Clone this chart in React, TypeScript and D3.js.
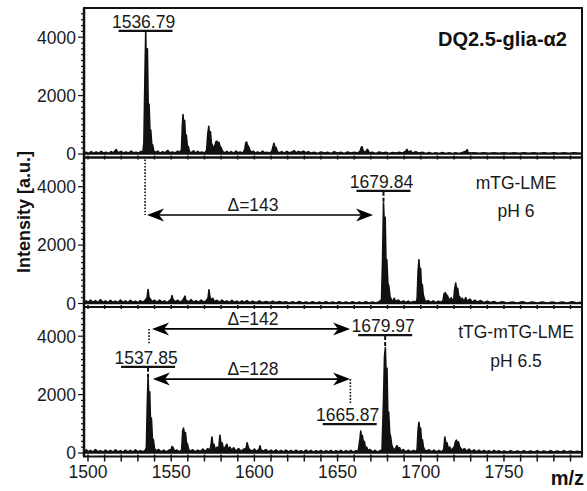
import React from "react";
import * as d3 from "d3";

// m/z spectra: [m/z, intensity]
const specGlia: [number, number][] = [
  [1497.6,20],[1499,60],[1500,20],[1502,80],[1503,25],[1505,70],[1506,20],[1508,90],[1509,30],[1511,60],[1512,20],[1514,80],[1515,30],[1517,150],[1518,40],[1520,90],[1521,30],[1523,70],[1524,20],[1526,100],[1527,40],[1529,60],[1530,30],[1532,90],[1533,60],
  [1533.6,400],[1534.2,2600],[1534.7,4180],[1535.2,2400],[1535.7,3600],[1536.2,1600],[1536.7,1700],[1537.2,850],[1537.7,820],[1538.3,350],[1538.9,300],[1539.5,100],
  [1541,50],[1542,100],[1543,30],[1545,80],[1546,30],[1548,120],[1549,40],[1551,70],[1552,30],[1554,100],[1555,40],
  [1556.2,150],[1556.7,950],[1557.1,1350],[1557.6,800],[1558.1,1150],[1558.6,550],[1559.1,650],[1559.7,280],[1560.3,250],[1561,80],
  [1562,40],[1563.5,110],[1564.5,30],[1566,90],[1567,40],[1568.5,70],[1570,30],[1571.3,120],
  [1572,700],[1572.6,950],[1573.1,600],[1573.6,760],[1574.2,350],[1574.8,300],[1575.5,150],
  [1576.3,300],[1576.9,420],[1577.5,440],[1578.1,380],[1578.7,400],[1579.3,280],[1580,220],[1580.8,100],
  [1582,40],[1583.5,90],[1584.5,30],[1586,80],[1587.5,30],[1589,100],[1590,40],[1591.5,70],[1593,30],
  [1594.2,150],[1594.8,380],[1595.3,410],[1595.9,300],[1596.5,260],[1597.2,150],[1598,60],
  [1599.5,90],[1600.5,30],[1602,70],[1603.5,30],[1605,100],[1606,40],[1607.5,60],[1609,30],[1610.5,90],
  [1611.2,250],[1611.8,370],[1612.4,200],[1613,230],[1613.8,80],
  [1615,40],[1616.5,80],[1618,30],[1619.5,90],[1621,40],[1622.5,70],[1624,110],[1625,40],[1626.5,90],[1628,50],[1629.5,100],[1631,40],[1632.5,80],[1634,30],[1636,60],[1638,20],[1640,70],[1642,30],[1644,60],[1646,20],[1648,80],[1650,30],[1652,60],[1654,20],[1656,70],[1658,30],[1660,60],[1662,30],
  [1663.6,100],[1664.2,220],[1664.7,250],[1665.3,120],[1666.5,40],[1668,160],[1669,40],[1671,60],[1673,20],[1675,70],[1677,30],[1679,60],[1681,20],[1683,50],[1685,30],[1687,60],[1689,30],[1691,100],[1691.7,160],[1692.5,60],[1694,100],[1695,30],[1697,80],[1699,30],[1701,60],[1703,20],[1705,50],[1707,20],[1709,40],[1711,20],[1713,50],[1715,20],[1717,40],[1719,20],[1721,40],[1723,20],[1725,50],[1727.2,90],[1727.8,150],[1728.5,50],[1730,30],[1732,40],[1735,20],[1738,40],[1741,20],[1744,40],[1747,20],[1750,40],[1753,20],[1756,40],[1759,20],[1762,40],[1765,20],[1768,40],[1771,20],[1774,40],[1777,20],[1780,40],[1783,20],[1786,40],[1789,20],[1792,40],[1796.9,20],
];

const specLme6: [number, number][] = [
  [1497.6,30],[1499,90],[1500,30],[1501.5,120],[1503,40],[1504.5,100],[1506,30],[1507.5,130],[1509,40],[1510.5,90],[1512,30],[1513.5,110],[1515,40],[1516.5,80],[1518,30],[1519.5,120],[1521,40],[1522.5,90],[1524,30],[1525.5,110],[1527,40],[1528.5,80],[1530,30],[1531.5,100],[1533,40],[1534.5,120],
  [1535.5,200],[1536.1,480],[1536.7,200],[1537.5,150],[1538.5,60],[1540,110],[1541.5,40],[1543,120],[1544.5,50],[1546,90],[1547.5,30],[1549,100],[1550,150],[1550.5,270],[1551.2,120],[1552.5,60],[1554,110],[1555.5,40],[1557,120],[1557.7,180],[1558.3,250],[1558.9,100],[1560.5,60],[1562,130],[1563.5,40],[1565,100],[1566.5,40],[1568,120],[1569.5,50],[1571,90],[1572.2,200],[1572.7,470],[1573.3,220],[1574,120],[1575,180],[1576,60],[1577.5,110],[1579,40],[1580.5,120],[1582,50],[1583.5,90],[1585,40],[1586.5,110],[1588,40],[1589.5,80],[1591,30],[1592.5,90],[1594,40],[1595.5,100],[1597,30],[1599,80],[1601,30],[1603,90],[1605,30],[1607,70],[1609,30],[1611,80],[1613,30],[1615,70],[1617,30],[1619,60],[1621,20],[1623,60],[1625,20],[1627,70],[1629,20],[1631,50],[1633,20],[1635,60],[1637,20],[1639,50],[1641,20],[1643,60],[1645,20],[1647,50],[1649,20],[1651,60],[1653,20],[1655,50],[1657,20],[1659,60],[1661,20],[1663,50],[1665,20],[1667,60],[1669,20],[1671,50],[1673,20],[1675,60],
  [1676.4,120],[1677,1400],[1677.6,3450],[1678.1,2700],[1678.6,2950],[1679.1,1400],[1679.6,1500],[1680.2,700],[1680.8,600],[1681.5,250],[1682.3,130],[1683,60],[1684,180],[1685,60],[1686.5,120],[1688,40],[1689.5,90],[1691,40],[1692.5,80],[1694,30],[1695.5,70],[1697,40],
  [1697.8,150],[1698.4,1100],[1698.9,1500],[1699.4,1100],[1699.9,1200],[1700.4,600],[1700.9,650],[1701.5,300],[1702.2,150],[1703,60],
  [1704.5,100],[1706,40],[1707.5,90],[1709,30],[1710.5,80],[1712,40],
  [1713.4,100],[1714,330],[1714.7,370],[1715.4,300],[1716.1,260],[1716.8,150],[1717.5,120],[1718.3,200],[1719,90],[1719.8,150],
  [1720.4,500],[1721,700],[1721.6,450],[1722.2,520],[1722.8,250],[1723.5,220],[1724.2,100],[1725,180],[1726,60],[1727,200],[1728,70],[1729.5,150],[1731,50],[1732.5,120],[1734,40],[1736,100],[1738,30],[1740,80],[1742,30],[1744,70],[1746,20],[1749,60],[1752,20],[1755,50],[1758,20],[1761,60],[1764,20],[1767,50],[1770,20],[1773,50],[1776,20],[1779,50],[1782,20],[1785,50],[1788,20],[1791,60],[1794,20],[1796.9,40],
];

const specLme65: [number, number][] = [
  [1497.6,40],[1499,110],[1500,40],[1501.5,90],[1503,30],[1504.5,120],[1506,40],[1507.5,80],[1509,30],[1510.5,100],[1512,40],[1513.5,90],[1515,30],[1516.5,110],[1518,40],[1519.5,80],[1521,30],[1522.5,100],[1524,40],[1525.5,90],[1527,30],[1528.5,110],[1530,40],[1531.5,80],[1533,40],[1534.5,100],
  [1535.1,200],[1535.6,1600],[1536.1,2600],[1536.6,1800],[1537.1,2100],[1537.6,1000],[1538.1,1200],[1538.7,500],[1539.3,450],[1540,150],[1541,70],[1542.5,120],[1544,40],[1545.5,100],[1547,40],[1548.5,90],[1550,120],[1550.5,220],[1551.2,180],[1552,60],[1553.5,100],[1555,40],[1556.3,110],
  [1556.9,750],[1557.4,850],[1558,650],[1558.6,700],[1559.2,350],[1559.8,300],[1560.5,120],[1561.5,60],[1563,110],[1564.5,40],[1566,100],[1567.5,50],[1569,130],[1570.5,60],[1572,150],[1573.3,80],
  [1574,300],[1574.5,550],[1575.1,250],[1575.7,300],[1576.4,120],[1577.5,200],[1578.5,90],[1579.3,610],[1579.9,300],[1580.6,350],[1581.3,150],[1582.3,180],[1583.5,300],[1584.3,120],[1585.3,200],[1586.5,90],[1587.5,180],[1589,60],[1590.5,150],[1592,60],[1593.5,130],[1595,150],[1595.6,350],[1596.3,200],[1597,120],[1598.5,60],[1600,130],[1601.5,50],[1603,150],[1603.4,250],[1604,100],[1605.5,60],[1607,120],[1608.5,40],[1610,100],[1611.5,40],[1613,110],[1614.5,40],[1616,90],[1617.5,40],[1619,100],[1620.5,40],[1622,90],[1623.5,30],[1625,100],[1626.5,40],[1628,80],[1629.5,30],[1631,100],[1632.5,40],[1634,90],[1635.5,30],[1637,80],[1638.5,40],[1640,90],[1641.5,30],[1643,80],[1644.5,40],[1646,90],[1647.5,30],[1649,80],[1650.5,40],[1652,90],[1653.5,30],[1655,80],[1656.5,40],[1658,90],[1659.5,30],[1661,80],[1662.4,60],
  [1663,300],[1663.5,500],[1663.9,750],[1664.4,550],[1664.9,600],[1665.5,350],[1666.1,400],[1666.8,150],[1667.5,200],[1668.3,80],[1669.5,120],[1671,40],[1672.5,90],[1674,30],[1675.5,80],[1676.7,100],
  [1677.6,1800],[1678.2,3300],[1678.7,3600],[1679.2,2700],[1679.7,2900],[1680.2,1300],[1680.7,1400],[1681.3,700],[1681.9,550],[1682.6,250],[1683.4,150],[1684.5,120],[1685.7,250],[1686.5,150],[1687.3,180],[1688.2,60],[1689.5,120],[1691,40],[1692.5,100],[1694,40],[1695.5,90],[1697,50],
  [1697.8,120],[1698.4,800],[1698.9,1050],[1699.4,800],[1699.9,850],[1700.4,450],[1701,450],[1701.6,200],[1702.4,100],[1703.5,60],[1705,110],[1706.5,40],[1708,100],[1709.5,40],[1711,90],[1712.5,40],[1713.8,120],
  [1714.5,550],[1715.1,300],[1715.8,350],[1716.5,150],[1717.4,200],[1718.3,80],[1719.2,150],[1720.1,200],[1720.8,380],[1721.4,440],[1722,350],[1722.7,380],[1723.4,200],[1724.2,150],[1725,80],[1726.2,150],[1727.5,60],[1729,130],[1730.5,50],[1732,110],[1733.5,40],[1735,100],[1736.5,40],[1738,90],[1739.5,40],[1741,80],[1742.5,30],[1744,90],[1745.5,40],[1747,80],[1748.5,30],[1750,70],[1752,30],[1754,80],[1756,30],[1758,70],[1760,30],[1762,80],[1764,30],[1766,70],[1768,30],[1770,80],[1772,30],[1774,70],[1776,30],[1778,80],[1780,30],[1782,70],[1784,30],[1786,80],[1788,30],[1790,70],[1792,30],[1794,60],[1796.9,30],
];

const spectra = [specGlia, specLme6, specLme65];
const panelTitles = [["DQ2.5-glia-α2"], ["mTG-LME", "pH 6"], ["tTG-mTG-LME", "pH 6.5"]];
const xTickLabels = [1500, 1550, 1600, 1650, 1700, 1750];
const yTickLabels = [0, 2000, 4000];

// peak labels: panel, text, m/z position, bar level (intensity), peak top
const peakLabels = [
  { panel: 0, text: "1536.79", mz: 1534.6, level: 4220, peak: 4180 },
  { panel: 1, text: "1679.84", mz: 1677.6, level: 3860, peak: 3450 },
  { panel: 2, text: "1537.85", mz: 1536.1, level: 2950, peak: 2600 },
  { panel: 2, text: "1665.87", mz: 1657.3, level: 990, peak: 990 },
  { panel: 2, text: "1679.97", mz: 1678.6, level: 4040, peak: 3600 },
];
// mass differences: panel, label, from, to, level
const deltas = [
  { panel: 1, text: "Δ=143", from: 1535.5, to: 1671.3, level: 3030 },
  { panel: 2, text: "Δ=142", from: 1538.5, to: 1657.5, level: 4250 },
  { panel: 2, text: "Δ=128", from: 1539, to: 1657.5, level: 2530 },
];

const W = 587;
const H = 491;
const left = 84;
const right = 582;
const top0 = 8;
const panelH = 149.5;
const FONT = "'Liberation Sans', Arial, Helvetica, sans-serif";

const x = d3.scaleLinear().domain([1497.6, 1796.9]).range([left, right]);
const yFor = (i: number) => {
  const t = top0 + i * panelH;
  return d3.scaleLinear().domain([0, 5000]).range([t + 146, t]);
};

const Arrow = ({ x1, x2, y }: { x1: number; x2: number; y: number }) => {
  const head = (tip: number, dir: number) =>
    `M${tip},${y} L${tip + dir * 17},${y - 6.5} L${tip + dir * 12},${y} L${tip + dir * 17},${y + 6.5} Z`;
  return (
    <g>
      <line x1={x1 + 10} x2={x2 - 10} y1={y} y2={y} stroke="#000" strokeWidth={1.6} />
      <path d={head(x1, 1)} fill="#000" />
      <path d={head(x2, -1)} fill="#000" />
    </g>
  );
};

export default function App() {
  const minor = d3.range(1500, 1797, 10);
  const yMinor = d3.range(0, 5000, 200);
  return (
    <svg width={W} height={H} style={{ position: "absolute", left: 0, top: 0, background: "#fff" }} fontFamily={FONT}>
      {spectra.map((s, i) => {
        const y = yFor(i);
        const t = top0 + i * panelH;
        const area = d3.area<[number, number]>().x((d) => x(d[0])).y0(y(0)).y1((d) => y(d[1]));
        return (
          <g key={i}>
            <path d={area(s) || ""} fill="#111" stroke="#111" strokeWidth={1.6} strokeLinejoin="round" />
            <rect x={left} y={t} width={right - left} height={panelH} fill="none" stroke="#111" strokeWidth={2} />
            {minor.map((m) => (
              <line key={m} x1={x(m)} x2={x(m)} y1={t + panelH - 2} y2={t + panelH + (i === 2 ? 5 : 2)} stroke="#111" strokeWidth={1.5} />
            ))}
            {yMinor.map((v) => (
              <line key={v} x1={left - (v % 2000 === 0 ? 6 : 3)} x2={left} y1={y(v)} y2={y(v)} stroke="#111" strokeWidth={1.2} />
            ))}
            {yTickLabels.map((v) => (
              <text key={v} x={76} y={y(v)} dy="0.36em" textAnchor="end" fontSize={17.5} fill="#1a1a1a">{v}</text>
            ))}
            {panelTitles[i].map((txt, k) =>
              i === 0 ? (
                <text key={k} x={567} y={46} textAnchor="end" fontSize={20} fontWeight="bold" fill="#111">{txt}</text>
              ) : (
                <text key={k} x={516} y={t + 31 + k * 28.5} textAnchor="middle" fontSize={17.5} fill="#1a1a1a">{txt}</text>
              )
            )}
          </g>
        );
      })}
      <line x1={left} x2={left} y1={top0} y2={top0 + 3 * panelH} stroke="#111" strokeWidth={2.5} />
      {xTickLabels.map((v) => (
        <text key={v} x={x(v)} y={478} textAnchor="middle" fontSize={17.5} fill="#1a1a1a">{v}</text>
      ))}
      <text x={584} y={485} textAnchor="end" fontSize={20} fontWeight="bold" fill="#111">m/z</text>
      <text transform="translate(30,212) rotate(-90)" textAnchor="middle" fontSize={18} fontWeight="bold" fill="#111">Intensity [a.u.]</text>

      {/* connectors */}
      <line x1={x(1534.3)} x2={x(1534.3)} y1={top0 + panelH + 2} y2={yFor(1)(3030)} stroke="#111" strokeWidth={1.6} strokeDasharray="1.6,1.6" />
      <line x1={x(1536.7)} x2={x(1536.7)} y1={yFor(2)(4250)} y2={yFor(2)(3700)} stroke="#111" strokeWidth={1.6} strokeDasharray="1.6,1.6" />
      <line x1={x(1657.7)} x2={x(1657.7)} y1={yFor(2)(2530)} y2={yFor(2)(1710)} stroke="#111" strokeWidth={1.6} strokeDasharray="1.6,1.6" />
      {peakLabels.map((p, k) => {
        const y = yFor(p.panel);
        const cx = x(p.mz);
        const by = y(p.level);
        return (
          <g key={k}>
            <text x={cx - 2} y={by - 3} textAnchor="middle" fontSize={17.5} fill="#1a1a1a">{p.text}</text>
            <line x1={cx - 27} x2={cx + 27} y1={by} y2={by} stroke="#111" strokeWidth={2.2} />
            {p.peak < p.level && (
              <line x1={cx} x2={cx} y1={by + 1} y2={y(p.peak)} stroke="#111" strokeWidth={2} strokeDasharray="4,2" />
            )}
          </g>
        );
      })}
      {deltas.map((d, k) => {
        const y = yFor(d.panel)(d.level);
        return (
          <g key={k}>
            <Arrow x1={x(d.from)} x2={x(d.to)} y={y} />
            <text x={253} y={y - 4} textAnchor="middle" fontSize={17.5} fill="#1a1a1a">{d.text}</text>
          </g>
        );
      })}
    </svg>
  );
}
